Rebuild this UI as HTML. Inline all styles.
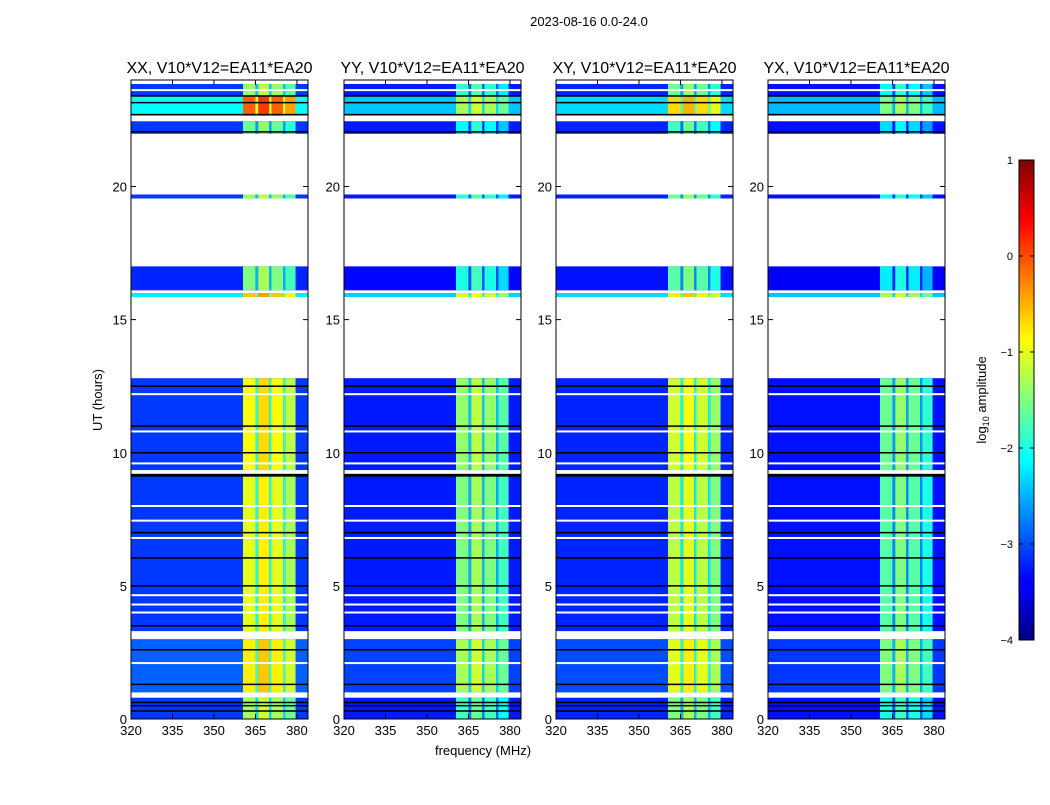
<!DOCTYPE html>
<html><head><meta charset="utf-8"><style>
body{margin:0;background:#fff;font-family:"Liberation Sans",sans-serif}
svg text{font-family:"Liberation Sans",sans-serif}
</style></head><body>
<svg id="fig" width="1050" height="800" xmlns="http://www.w3.org/2000/svg">
<defs><linearGradient id="jet" x1="0" y1="1" x2="0" y2="0">
<stop offset="0" stop-color="#00007f"/><stop offset="0.11" stop-color="#0000ff"/><stop offset="0.125" stop-color="#0000ff"/><stop offset="0.375" stop-color="#00ffff"/><stop offset="0.625" stop-color="#ffff00"/><stop offset="0.875" stop-color="#ff0000"/><stop offset="1" stop-color="#7f0000"/></linearGradient></defs>
<text x="589" y="26" font-size="13" text-anchor="middle">2023-08-16 0.0-24.0</text>
<g id="panels"></g>
<text x="483" y="755" font-size="13" text-anchor="middle">frequency (MHz)</text>
<text transform="translate(102,400) rotate(-90)" font-size="13" text-anchor="middle">UT (hours)</text>
<g>
<rect x="1019" y="160" width="15" height="480" fill="url(#jet)" stroke="#000" stroke-width="1"/>
<g id="cbticks"></g>
<text transform="translate(986,400) rotate(-90)" font-size="13" text-anchor="middle">log<tspan font-size="9" dy="3">10</tspan><tspan dy="-3"> amplitude</tspan></text>
</g>
</svg>
<script>
const panelTitles=["XX, V10*V12=EA11*EA20","YY, V10*V12=EA11*EA20","XY, V10*V12=EA11*EA20","YX, V10*V12=EA11*EA20"];
const panelBase=[-3.1,-3.25,-3.2,-3.3];
const panelBand=[-1.0,-1.5,-1.2,-1.7];
const panelTopBoost=[0.9,0.2,0.5,0.2];
const segStart=[0,1.0,3.3,9.35,15.85,16.1,19.55,21.98,22.66,23.4];
const segEnd=[0.8,3.0,9.2,12.8,16.0,17.0,19.7,22.45,23.38,23.85];
const segBaseOff=[0,0.2,0,0,0.9,-0.1,0,0,0.8,0];
const segBandOff=[-0.3,0.2,0,0.1,0.4,-0.5,-0.4,-0.6,0.0,-0.4];
const colStart=[360.5,365,366,370,370.8,375,375.8];
const colEnd=[365,366,370,370.8,375,375.8,379.5];
const colOff=[0,-1.0,0.2,-1.0,0,-1.0,-0.3];
const whiteLines=[2.1,3.05,4.0,4.3,4.65,6.8,7.45,8.0,9.6,10.8,12.2,16.05,22.6,23.62];
const blackLines=[0.3,0.5,0.62,1.3,2.6,3.5,5.0,6.05,7.0,9.13,9.18,10.0,11.0,12.5,22.05,22.7,23.15,23.4];
const yTicks=[0,5,10,15,20];
const xTicks=[320,335,350,365,380];
const cbTicks=[1,0,-1,-2,-3,-4];
const panelX=[131,344,556,768];
const PW=177,PT=80,PB=719,XMIN=320,XMAX=384,VMIN=-4,VMAX=1;
function jet(v){let x=(v-VMIN)/(VMAX-VMIN);x=Math.max(0,Math.min(1,x));
const c=t=>Math.round(255*Math.max(0,Math.min(1,1.5-Math.abs(4*x-t))));return `rgb(${c(3)},${c(2)},${c(1)})`;}
const NS="http://www.w3.org/2000/svg";
function el(tag,attrs,parent){const e=document.createElementNS(NS,tag);for(const k in attrs)e.setAttribute(k,attrs[k]);parent.appendChild(e);return e;}
const yS=h=>PB-(h/24)*(PB-PT);
const root=document.getElementById('panels');
panelX.forEach((px,p)=>{
 const xS=f=>px+(f-XMIN)/(XMAX-XMIN)*PW;
 const g=el('g',{},root);
 
 
 segStart.forEach((s,i)=>{
  const y1=yS(segEnd[i]),y2=yS(s);
  const boost=i===8?panelTopBoost[p]:0;
  const r=el('rect',{x:px,y:y1,width:PW,height:y2-y1,fill:jet(panelBase[p]+segBaseOff[i]+boost*0.2)},g);
  
  
  colStart.forEach((c,j)=>{
   const rc=el('rect',{x:xS(c),y:y1,width:xS(colEnd[j])-xS(c),height:y2-y1,fill:jet(panelBand[p]+colOff[j]+segBandOff[i]+boost)},g);
   
   
  });
 });
 whiteLines.forEach(h=>{el('rect',{x:px,y:yS(h)-1,width:PW,height:2,fill:'#fff'},g);});
 blackLines.forEach(h=>{el('rect',{x:px,y:yS(h)-0.75,width:PW,height:1.5,fill:'#000'},g);});
 el('rect',{x:px,y:PT,width:PW,height:PB-PT,fill:'none',stroke:'#000','stroke-width':1},g);
 const t=el('text',{x:px+PW/2,y:73,'font-size':16,'text-anchor':'middle'},g);t.textContent=panelTitles[p];
 
 
 yTicks.forEach(v=>{const y=yS(v);
  el('line',{x1:px,x2:px+5,y1:y,y2:y,stroke:'#000'},g);el('line',{x1:px+PW-5,x2:px+PW,y1:y,y2:y,stroke:'#000'},g);
  const l=el('text',{x:px-4,y:y+5,'font-size':13,'text-anchor':'end'},g);l.textContent=v;
  
  });
 xTicks.forEach(v=>{const x=xS(v);
  el('line',{x1:x,x2:x,y1:PB,y2:PB-5,stroke:'#000'},g);el('line',{x1:x,x2:x,y1:PT,y2:PT+5,stroke:'#000'},g);
  const l=el('text',{x:x,y:PB+16,'font-size':13,'text-anchor':'middle'},g);l.textContent=v;
  
  });
});
const cb=document.getElementById('cbticks');
cbTicks.forEach(v=>{const y=640-(v-VMIN)/(VMAX-VMIN)*480;
 el('line',{x1:1019,x2:1023,y1:y,y2:y,stroke:'#000'},cb);el('line',{x1:1030,x2:1034,y1:y,y2:y,stroke:'#000'},cb);
 const l=el('text',{x:1013,y:y+4,'font-size':11,'text-anchor':'end'},cb);l.textContent=v<0?'\u2212'+(-v):v;
 
 });
</script>
</body></html>
